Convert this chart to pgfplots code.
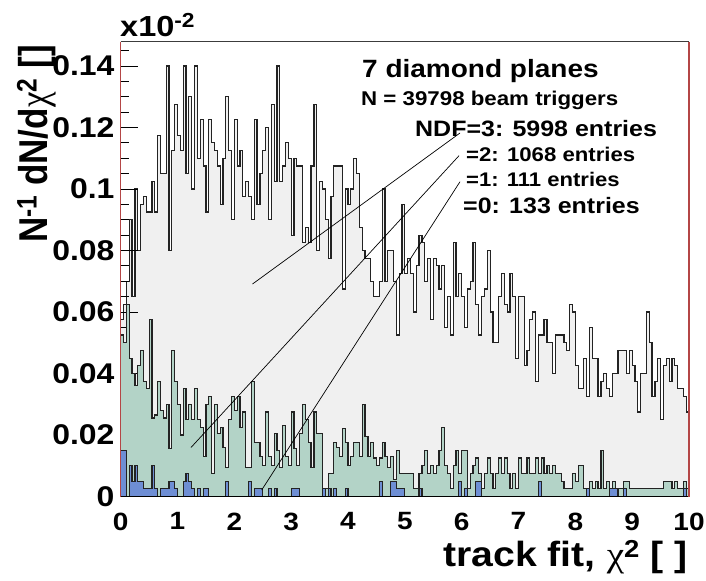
\documentclass[border=0pt]{standalone}
\usepackage{pgfplots}
\usepackage{pgfplotstable}
\pgfplotsset{compat=1.18}
\usepackage{fontspec}
\usepackage{graphicx}
\setmainfont{Liberation Sans}[FakeStretch=1.12]
\newfontfamily\plainfont{Liberation Sans}
\newfontfamily\chifont{Liberation Serif}[FakeStretch=1.12]
\newfontfamily\plainchifont{Liberation Serif}
\newcommand\fs[1]{\fontsize{#1bp}{#1bp}\selectfont\bfseries}
\newcommand\chiup{{\chifont\mdseries χ}}
\newcommand\chiplain{{\plainchifont\mdseries χ}}
\definecolor{grayfill}{RGB}{240,240,240}
\definecolor{histline}{RGB}{35,35,35}
\definecolor{greenfill}{RGB}{179,211,199}
\definecolor{bluefill}{RGB}{110,142,212}
\definecolor{framered}{RGB}{180,70,70}
\definecolor{framegray}{RGB}{60,60,60}
% columns: x, g = NDF=3, n = NDF=2, b = NDF=1 ; y in units of 1e-3 (x10^-2)
\pgfplotstableread{
x g n b
0 57.5 52.5 15
0.05 62.5 50 15
0.1 70 62.5 0
0.15 90 45 10
0.2 65 40 5
0.25 100 36 10
0.3 80 42.5 5
0.35 95 47.5 5
0.4 97.5 37.5 2.5
0.45 92.5 35 2.5
0.5 92.5 57.5 2.5
0.55 102.5 25.5 10
0.6 92.5 26.5 2.5
0.65 117.5 37.5 0
0.7 105 28 2.5
0.75 105 25.5 2.5
0.8 140 30 2.5
0.85 80 15.5 5
0.9 112.5 47.5 5
0.95 127.5 37.5 2.5
1 117.5 30 0
1.05 112.5 20 0
1.1 140 35 5
1.15 105 25 7.5
1.2 130 30 5
1.25 100 25 2.5
1.3 140 35 0
1.35 110 25 2.5
1.4 122.5 22.5 0
1.45 107.5 13 2.5
1.5 92.5 30 2.5
1.55 122.5 32.5 0
1.6 115 7.5 0
1.65 112.5 30 0
1.7 107.5 20.5 0
1.75 95 22.5 0
1.8 110 16 0
1.85 130 9.5 5
1.9 112.5 25 0
1.95 90 32.5 0
2 122.5 28 0
2.05 107.5 32.5 0
2.1 112.5 22.5 0
2.15 97.5 27.5 0
2.2 102.5 9.5 0
2.25 97.5 9.5 5
2.3 90 37.5 0
2.35 122.5 17.5 2.5
2.4 95 17.5 2.5
2.45 105 13 2.5
2.5 112.5 10 0
2.55 120 27.5 0
2.6 90 13 2.5
2.65 127.5 10 0
2.7 102.5 20.5 2.5
2.75 140 15 0
2.8 102.5 9.5 0
2.85 107.5 23 0
2.9 115 13 0
2.95 110 10 0
3 85 27.5 2.5
3.05 110 15.5 2.5
3.1 107.5 10 2.5
3.15 107.5 20.5 0
3.2 82.5 30 0
3.25 87.5 25 0
3.3 82.5 17.5 0
3.35 107.5 9.5 0
3.4 127.5 27.5 0
3.45 80 20.5 0
3.5 102.5 20.5 0
3.55 100 2.5 2.5
3.6 90 2.5 0
3.65 77.5 7.5 2.5
3.7 97.5 7.5 0
3.75 107.5 17.5 2.5
3.8 107.5 16 0
3.85 107.5 13 0
3.9 67.5 22 0
3.95 100 17.5 2.5
4 95 10 0
4.05 100 13 0
4.1 110 17.5 0
4.15 105 17.5 0
4.2 87.5 13 0
4.25 80 30 0
4.3 77.5 19.5 0
4.35 77.5 13 0
4.4 70 17.5 0
4.45 65 12.5 0
4.5 65 10 0
4.55 70 12.5 5
4.6 100 17.5 0
4.65 70 13 0
4.7 80 9.5 0
4.75 80 13 5
4.8 70 5.5 5
4.85 52.5 15 2.5
4.9 72.5 7.5 2.5
4.95 95 7.5 2.5
5 72.5 7.5 0
5.05 77.5 7.5 0
5.1 72.5 7.5 0
5.15 60 2.5 0
5.2 75 2.5 0
5.25 85 7.5 2.5
5.3 82.5 10 0
5.35 70 15 0
5.4 77.5 7.5 0
5.45 57.5 10 0
5.5 77.5 7.5 0
5.55 75 10 0
5.6 67.5 15 0
5.65 75 22.5 0
5.7 55 10 0
5.75 65 7.5 0
5.8 52.5 2.5 0
5.85 82.5 10 0
5.9 65 15 0
5.95 72.5 7.5 5
6 65 15 0
6.05 55 15 2.5
6.1 67.5 2.5 0
6.15 70 7.5 0
6.2 82.5 10 0
6.25 62.5 12.5 5
6.3 52.5 7.5 5
6.35 65 2.5 0
6.4 67.5 7.5 0
6.45 80 12.5 0
6.5 60 7.5 0
6.55 50 2.5 0
6.6 50 7.5 0
6.65 65 12.5 0
6.7 72.5 7.5 0
6.75 62.5 12.5 0
6.8 60 7.5 0
6.85 72.5 2.5 0
6.9 65 7.5 0
6.95 45 2.5 0
7 65 12.5 0
7.05 65 7.5 0
7.1 42.5 7.5 0
7.15 47.5 12.5 0
7.2 57.5 7.5 0
7.25 60 7.5 0
7.3 37.5 12.5 0
7.35 52.5 7.5 5
7.4 52.5 12.5 0
7.45 57.5 7.5 0
7.5 50 10 0
7.55 50 7.5 0
7.6 40 10 0
7.65 52.5 7.5 0
7.7 52.5 7.5 0
7.75 52.5 5 0
7.8 50 2.5 0
7.85 47.5 2.5 0
7.9 62.5 2.5 0
7.95 60 7.5 0
8 42.5 5 0
8.05 35 10 0
8.1 35 10 0
8.15 45 2.5 0
8.2 32.5 2.5 2.5
8.25 55 5 0
8.3 45 2.5 0
8.35 45 5 0
8.4 32.5 2.5 0
8.45 37.5 15 0
8.5 40 2.5 0
8.55 35 5 0
8.6 32.5 2.5 2.5
8.65 40 5 2.5
8.7 40 2.5 2.5
8.75 47.5 2.5 0
8.8 47.5 2.5 0
8.85 47.5 5 2.5
8.9 40 5 0
8.95 47.5 2.5 0
9 42.5 2.5 0
9.05 37.5 2.5 0
9.1 27.5 2.5 0
9.15 40 2.5 0
9.2 40 2.5 0
9.25 60 2.5 0
9.3 50 2.5 0
9.35 32.5 2.5 0
9.4 37.5 2.5 0
9.45 45 2.5 0
9.5 25 2.5 0
9.55 42.5 5 0
9.6 45 5 0
9.65 37.5 5 0
9.7 45 2.5 0
9.75 42.5 5 0
9.8 35 2.5 0
9.85 35 2.5 0
9.9 32.5 5 2.5
9.95 27.5 2.5 0
10 27.5 2.5 0
}\data

\begin{document}
\begin{tikzpicture}
\useasboundingbox (0bp,0bp) rectangle (706bp,-581bp);
\pgfplotsset{myaxis/.style={
  at={(120.7bp,-496.5bp)}, anchor=south west,
  scale only axis, width=568.3bp, height=454.8bp,
  xmin=0, xmax=10, ymin=0, ymax=147.9,
  clip=true}}
\begin{axis}[myaxis,
  axis line style={draw=none},
  xtick={0,1,2,3,4,5,6,7,8,9,10},
  xticklabels={0,1,2,3,4,5,6,7,8,9,10},
  xtick style={draw=none},
  xticklabel style={font=\fs{25}, inner sep=0pt, yshift=-16bp},
  ytick={0,20,40,60,80,100,120,140},
  yticklabels={0,0.02,0.04,0.06,0.08,0.1,0.12,0.14},
  minor ytick={5,10,15,25,30,35,45,50,55,65,70,75,85,90,95,105,110,115,125,130,135,145},
  yticklabel style={font=\fs{28.5}, inner sep=0pt, xshift=-6bp},
  ytick pos=left, tick align=inside,
  major tick length=17bp, minor tick length=8bp,
  y tick style={black, line width=0.9bp},
  axis on top]
\addplot[const plot, fill=grayfill, draw=histline, line width=1.2bp] table[x=x, y=g] {\data} \closedcycle;
\end{axis}
\begin{axis}[myaxis, hide axis]
\addplot[const plot, fill=greenfill, draw=histline, line width=1.2bp] table[x=x, y=n] {\data} \closedcycle;
\addplot[const plot, fill=bluefill, draw=histline, line width=1.2bp] table[x=x, y=b] {\data} \closedcycle;
\end{axis}
% frame
\draw[framegray, line width=1bp] (120.7bp,-41.7bp) -- (689bp,-41.7bp);
\draw[black, line width=1.2bp] (120.7bp,-496.5bp) -- (689bp,-496.5bp);
\draw[framered, line width=1.5bp] (120.7bp,-41.7bp) -- (120.7bp,-496.5bp);
\draw[framered, line width=1.5bp] (689bp,-41.7bp) -- (689bp,-496.5bp);
% pointer lines
\draw[black, line width=0.7bp] (460bp,-133bp) -- (252.5bp,-284bp);
\draw[black, line width=0.7bp] (459bp,-155.7bp) -- (191bp,-447.5bp);
\draw[black, line width=0.7bp] (460bp,-181.7bp) -- (261.7bp,-490bp);
% texts
\node[anchor=base west, inner sep=0pt] at (120bp,-36bp) {\fs{29}x10\textsuperscript{-2}};
\node[anchor=base west, inner sep=0pt] at (362bp,-77bp) {\fs{25}7 diamond planes};
\node[anchor=base west, inner sep=0pt] at (361bp,-105bp) {\fs{19.9}N = 39798 beam triggers};
\node[anchor=base west, inner sep=0pt] at (415bp,-136bp) {\fs{22.3}NDF=3: 5998 entries};
\node[anchor=base west, inner sep=0pt] at (466bp,-161bp) {\fs{19.8}=2: 1068 entries};
\node[anchor=base west, inner sep=0pt] at (466bp,-186bp) {\fs{19.7}=1: 111 entries};
\node[anchor=base west, inner sep=0pt] at (463bp,-213bp) {\fs{22.3}=0: 133 entries};
\node[anchor=base east, inner sep=0pt] at (688bp,-566bp) {\fs{35}track fit, \chiup\textsuperscript{2} [ ]};
\node[rotate=90, anchor=base east, inner sep=0pt] at (47bp,-45bp) {\scalebox{1}[1.15]{\plainfont\fs{35}N\textsuperscript{-1} dN/d\chiplain\textsuperscript{2} []}};
\end{tikzpicture}
\end{document}
